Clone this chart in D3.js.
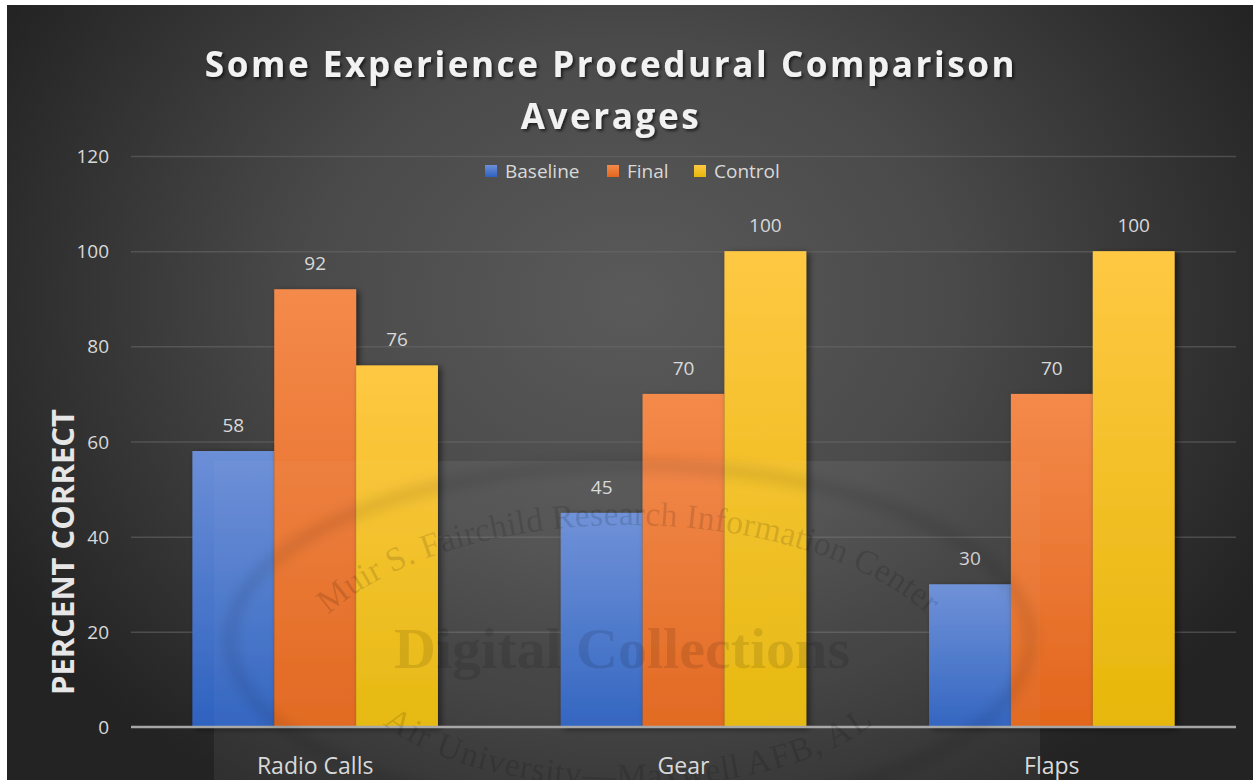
<!DOCTYPE html>
<html>
<head>
<meta charset="utf-8">
<script src="https://cdn.jsdelivr.net/npm/d3@7"></script>
<style>
html,body{margin:0;padding:0;background:#fff;}
svg{display:block;}
</style>
</head>
<body>
<svg id="chart" width="1253" height="780"></svg>
<script>
// ---- data ----
const categories = ["Radio Calls", "Gear", "Flaps"];
const seriesNames = ["Baseline", "Final", "Control"];
const baseline = [58, 45, 30];
const finalVals = [92, 70, 70];
const control = [76, 100, 100];
const yTicks = [0, 20, 40, 60, 80, 100, 120];
const titleLines = ["Some Experience Procedural Comparison", "Averages"];
const yTitle = "PERCENT CORRECT";
const watermarkTexts = ["Muir S. Fairchild Research Information Center", "Air University\u2014Maxwell AFB, AL", "Digital Collections"];

const seriesValues = [baseline, finalVals, control];
const colorsTop = ["#6c8fd7", "#f48a4b", "#ffc843"];
const colorsBottom = ["#2e62c0", "#e2661d", "#e6b70a"];

const W = 1253, H = 780;
const svg = d3.select("#chart");
const defs = svg.append("defs");

// background gradient
const bg = defs.append("radialGradient").attr("id", "bg")
  .attr("gradientUnits", "userSpaceOnUse")
  .attr("cx", 630).attr("cy", 300).attr("r", 720)
  .attr("gradientTransform", "translate(630,300) scale(1,0.8) translate(-630,-300)");
bg.append("stop").attr("offset", "0%").attr("stop-color", "#5a5a5a");
bg.append("stop").attr("offset", "45%").attr("stop-color", "#4a4a4a");
bg.append("stop").attr("offset", "100%").attr("stop-color", "#232323");

seriesNames.forEach((s, i) => {
  const g = defs.append("linearGradient").attr("id", "g" + i)
    .attr("x1", 0).attr("y1", 0).attr("x2", 0).attr("y2", 1);
  g.append("stop").attr("offset", "0%").attr("stop-color", colorsTop[i]);
  g.append("stop").attr("offset", "100%").attr("stop-color", colorsBottom[i]);
});

const shadow = defs.append("filter").attr("id", "shadow")
  .attr("x", "-20%").attr("y", "-20%").attr("width", "150%").attr("height", "150%");
shadow.append("feDropShadow").attr("dx", 3).attr("dy", 2).attr("stdDeviation", 3)
  .attr("flood-color", "#000").attr("flood-opacity", 0.55);

const tshadow = defs.append("filter").attr("id", "tshadow")
  .attr("x", "-10%").attr("y", "-30%").attr("width", "120%").attr("height", "160%");
tshadow.append("feDropShadow").attr("dx", 2).attr("dy", 2).attr("stdDeviation", 1.5)
  .attr("flood-color", "#000").attr("flood-opacity", 0.6);

const blur = defs.append("filter").attr("id", "soft");
blur.append("feGaussianBlur").attr("stdDeviation", 6);

svg.append("rect").attr("x", 7).attr("y", 5).attr("width", W - 7).attr("height", H - 5)
  .attr("fill", "url(#bg)");

// scales
const plot = {left: 131, right: 1236, top: 156, bottom: 727};
const y = d3.scaleLinear().domain([0, 120]).range([plot.bottom, plot.top]);
const x0 = d3.scaleBand().domain(categories).range([plot.left, plot.right]).padding(0);
const x1 = d3.scaleBand().domain(seriesNames)
  .range([x0.bandwidth() * 0.75 / 4.5, x0.bandwidth() * (1 - 0.75 / 4.5)]).padding(0);

// gridlines
const grid = svg.append("g").attr("transform", `translate(${plot.left},0)`)
  .call(d3.axisLeft(y).tickValues(yTicks.filter(t => t > 0)).tickSize(-(plot.right - plot.left)).tickFormat(""));
grid.select(".domain").remove();
grid.selectAll(".tick line").attr("stroke", "#6a6a6a").attr("stroke-opacity", 0.55).attr("stroke-width", 1.5);

// y tick labels
const yAxis = svg.append("g").attr("transform", `translate(${plot.left - 22},0)`)
  .call(d3.axisLeft(y).tickValues(yTicks).tickSize(0).tickPadding(0));
yAxis.select(".domain").remove();
yAxis.selectAll("text").attr("fill", "#d9d9d9").attr("font-family", "'Open Sans', sans-serif")
  .attr("font-size", 19).attr("dy", "0.35em");

// faint light panel behind bars
svg.append("rect").attr("x", 214).attr("y", 461).attr("width", 826).attr("height", 319)
  .attr("fill", "#ffffff").attr("opacity", 0.035);

// bars
const groups = svg.append("g").selectAll("g").data(categories).join("g")
  .attr("transform", d => `translate(${x0(d)},0)`);
groups.selectAll("rect").data((d, ci) => seriesNames.map((s, si) => ({s, si, v: seriesValues[si][ci]})))
  .join("rect")
  .attr("x", d => x1(d.s)).attr("width", x1.bandwidth())
  .attr("y", d => y(d.v)).attr("height", d => y(0) - y(d.v))
  .attr("fill", d => `url(#g${d.si})`).attr("filter", "url(#shadow)");

// value labels
groups.selectAll("text.val").data((d, ci) => seriesNames.map((s, si) => ({s, si, v: seriesValues[si][ci]})))
  .join("text").attr("class", "val")
  .attr("x", d => x1(d.s) + x1.bandwidth() / 2).attr("y", d => y(d.v) - 19)
  .attr("text-anchor", "middle").attr("fill", "#d9d9d9")
  .attr("font-family", "'Open Sans', sans-serif").attr("font-size", 19).text(d => d.v);

// zero line
svg.append("line").attr("x1", plot.left).attr("x2", plot.right).attr("y1", y(0)).attr("y2", y(0))
  .attr("stroke", "#a6a6a6").attr("stroke-width", 2.5);

// watermark overlay (on top, faint)
const wm = svg.append("g").attr("pointer-events", "none");
wm.append("rect").attr("x", 214).attr("y", 461).attr("width", 826).attr("height", 319)
  .attr("fill", "#ffffff").attr("opacity", 0.03);
wm.append("ellipse").attr("cx", 630).attr("cy", 640).attr("rx", 400).attr("ry", 175)
  .attr("fill", "none").attr("stroke", "#000").attr("stroke-opacity", 0.09).attr("stroke-width", 14)
  .attr("filter", "url(#soft)");
defs.append("path").attr("id", "arcTop")
  .attr("d", "M 285 700 A 343 175 0 0 1 971 700");
defs.append("path").attr("id", "arcBot")
  .attr("d", "M 368 655 A 260 108 0 0 0 888 655");
wm.append("text").attr("font-family", "'Liberation Serif', serif").attr("font-size", 34)
  .attr("fill", "#000").attr("opacity", 0.12)
  .append("textPath").attr("href", "#arcTop").attr("startOffset", "50%").attr("text-anchor", "middle")
  .text(watermarkTexts[0]);
wm.append("text").attr("font-family", "'Liberation Serif', serif").attr("font-size", 34)
  .attr("fill", "#000").attr("opacity", 0.12)
  .append("textPath").attr("href", "#arcBot").attr("startOffset", "50%").attr("text-anchor", "middle")
  .attr("dominant-baseline", "hanging")
  .text(watermarkTexts[1]);
wm.append("text").attr("x", 622).attr("y", 668).attr("text-anchor", "middle")
  .attr("font-family", "'Liberation Serif', serif").attr("font-weight", "bold").attr("font-size", 58)
  .attr("fill", "#000").attr("opacity", 0.1).text(watermarkTexts[2]);

// x labels
svg.append("g").selectAll("text").data(categories).join("text")
  .attr("x", d => x0(d) + x0.bandwidth() / 2).attr("y", 774)
  .attr("text-anchor", "middle").attr("fill", "#d9d9d9")
  .attr("font-family", "'Open Sans', sans-serif").attr("font-size", 23).text(d => d);

// legend
const legendX = [485, 607, 694];
const leg = svg.append("g").selectAll("g").data(seriesNames).join("g")
  .attr("transform", (d, i) => `translate(${legendX[i]},165)`);
leg.append("rect").attr("width", 12).attr("height", 12).attr("fill", (d, i) => `url(#g${i})`);
leg.append("text").attr("x", 20).attr("y", 6).attr("dy", "0.35em").attr("fill", "#d9d9d9")
  .attr("font-family", "'Open Sans', sans-serif").attr("font-size", 19).text(d => d);

// title
const title = svg.append("g").attr("filter", "url(#tshadow)");
title.append("text").attr("x", 611).attr("y", 77).attr("text-anchor", "middle")
  .attr("fill", "#f2f2f2").attr("font-family", "'Open Sans', sans-serif").attr("font-weight", "bold")
  .attr("font-size", 35).attr("letter-spacing", 2.6).text(titleLines[0]);
title.append("text").attr("x", 611).attr("y", 129).attr("text-anchor", "middle")
  .attr("fill", "#f2f2f2").attr("font-family", "'Open Sans', sans-serif").attr("font-weight", "bold")
  .attr("font-size", 35).attr("letter-spacing", 2.6).text(titleLines[1]);

// y axis title
svg.append("text").attr("transform", "translate(74,552) rotate(-90)")
  .attr("text-anchor", "middle").attr("fill", "#e6e6e6")
  .attr("font-family", "'Open Sans', sans-serif").attr("font-weight", "bold")
  .attr("font-size", 31).text(yTitle);
</script>
</body>
</html>
